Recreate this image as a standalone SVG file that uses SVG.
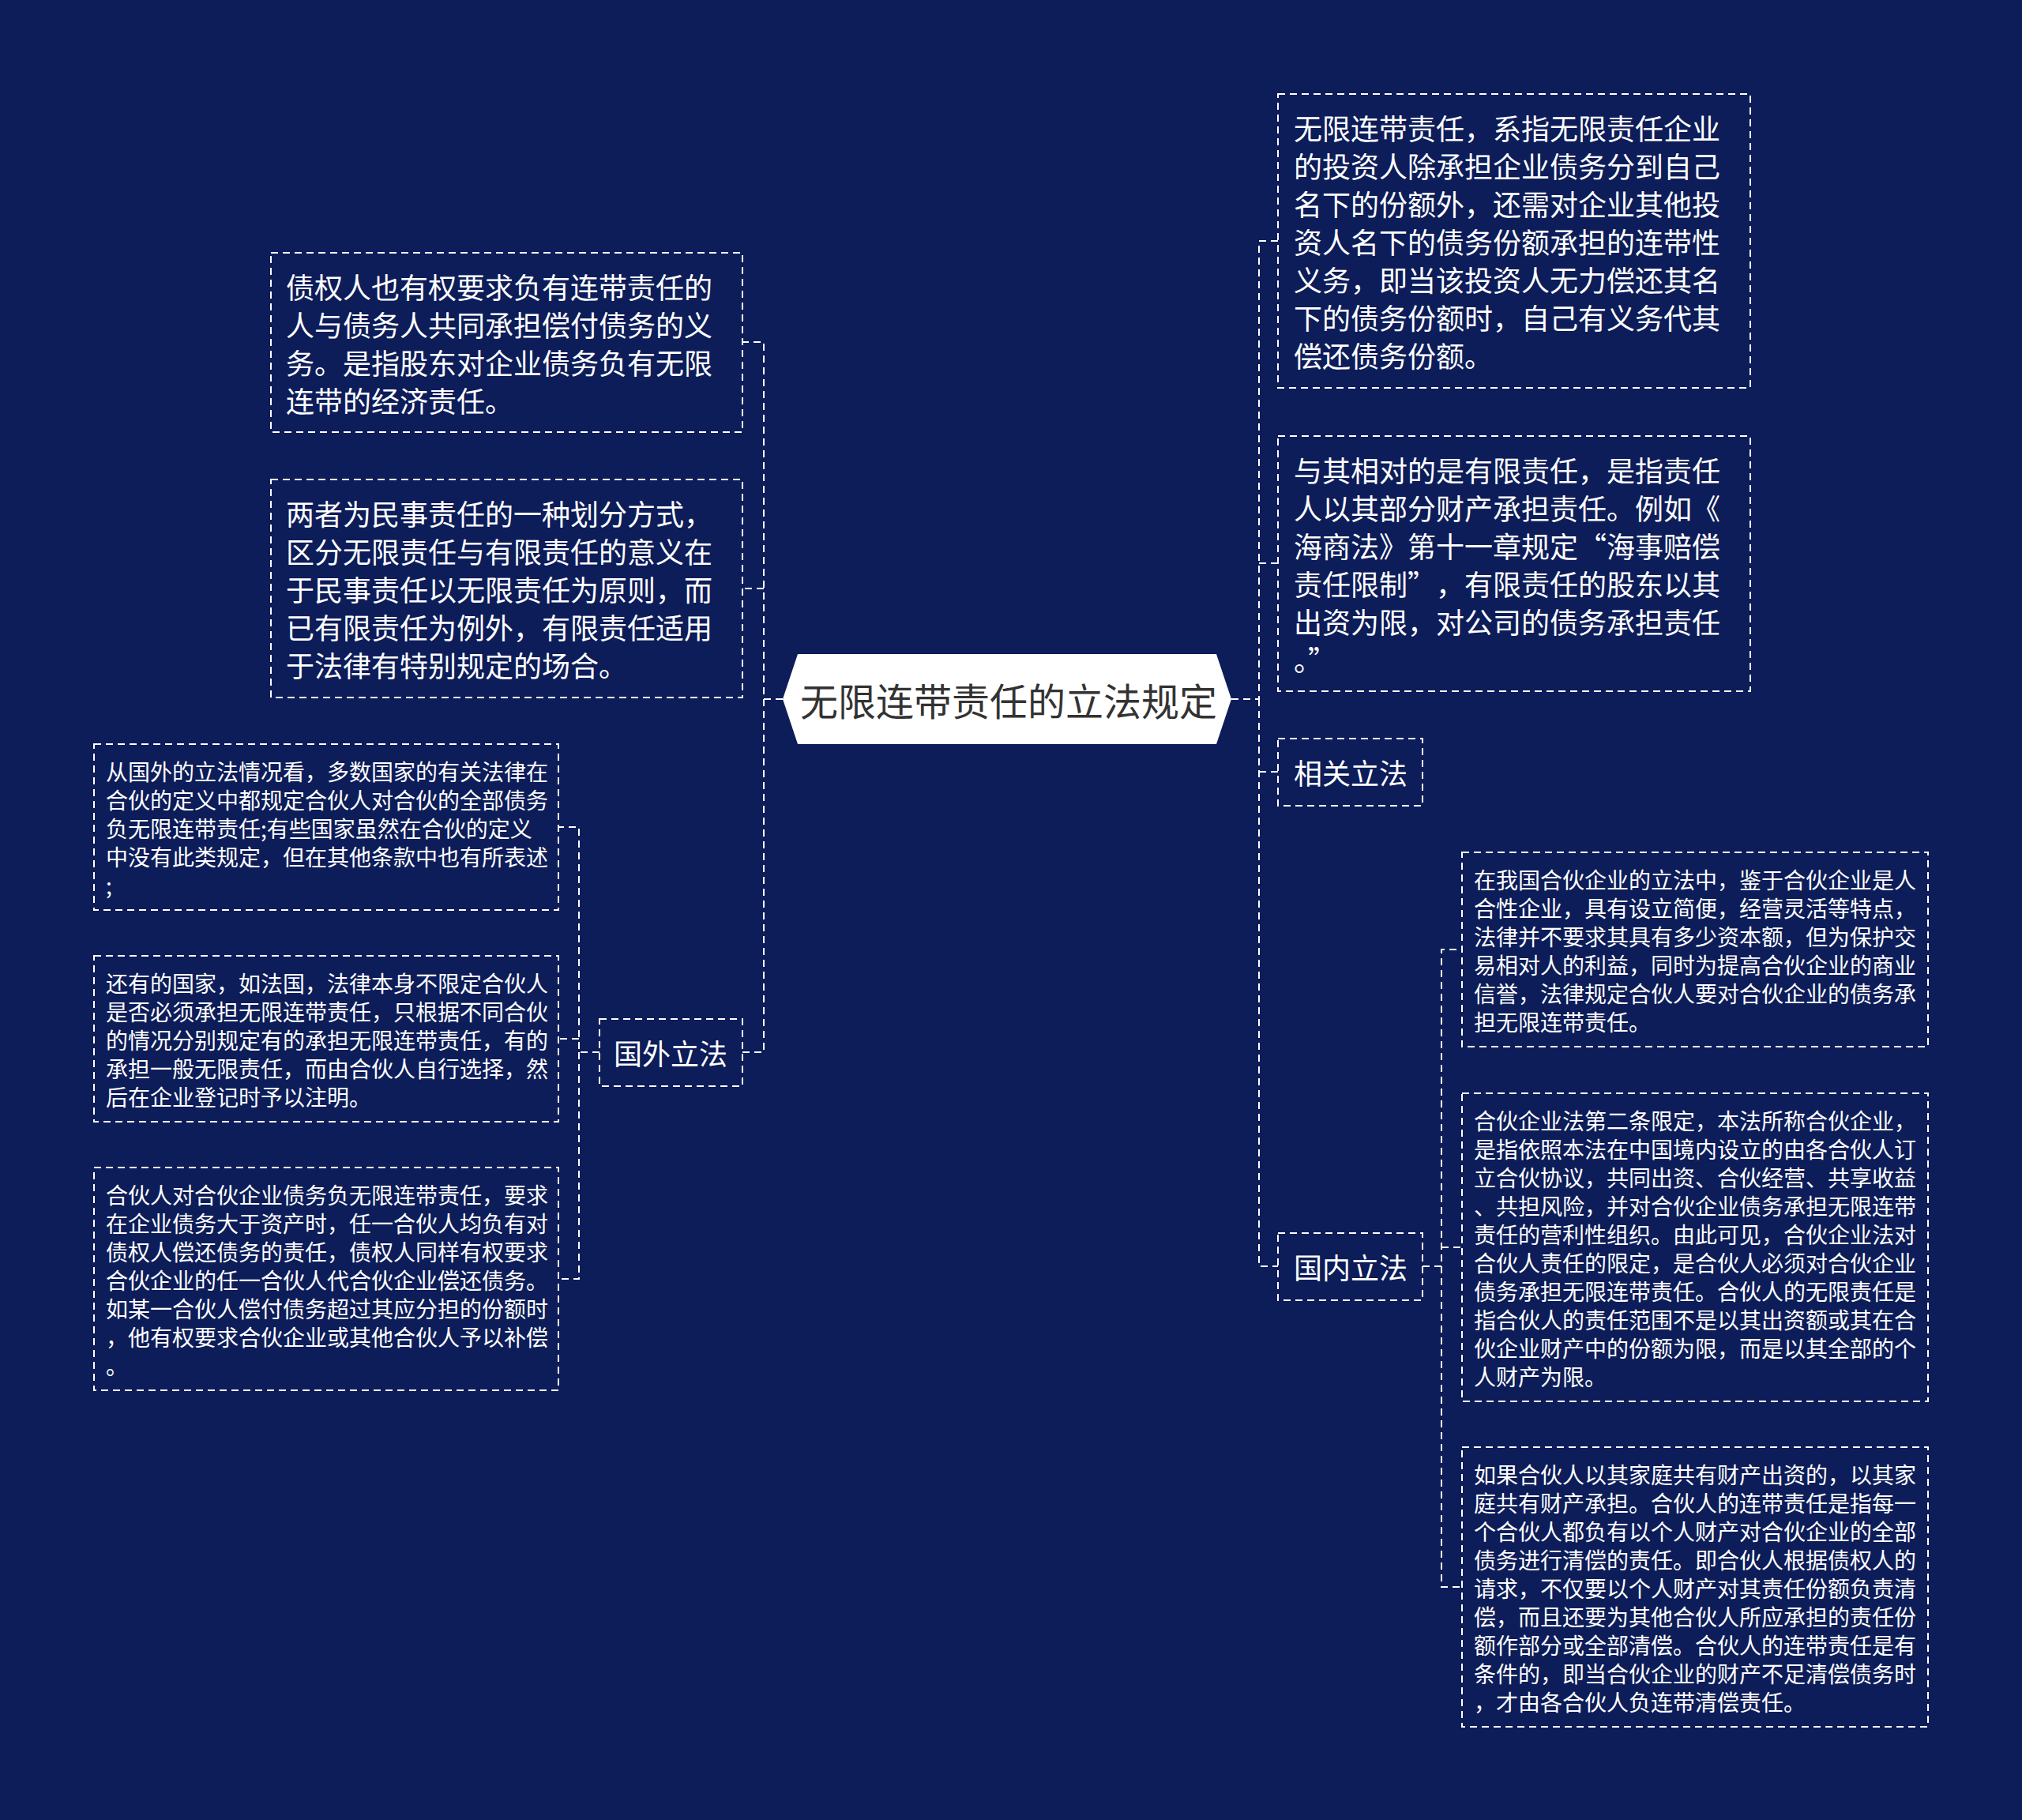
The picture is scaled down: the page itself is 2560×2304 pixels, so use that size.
<svg xmlns="http://www.w3.org/2000/svg" width="2560" height="2304" viewBox="0 0 2560 2304">
<style>
.bg{fill:#0d1d59}
.box{fill:none;stroke:#ffffff;stroke-width:2;stroke-dasharray:9 6}
.ln{fill:none;stroke:#ffffff;stroke-width:2;stroke-dasharray:9 6}
.t{fill:#ffffff;font-family:"Noto Sans CJK SC","Noto Sans",sans-serif;dominant-baseline:central}
.big{font-size:36px}
.sm{font-size:28px}
.ct{fill:#333333;font-family:"Noto Sans CJK SC","Noto Sans",sans-serif;font-size:48px;dominant-baseline:central;text-anchor:middle}
</style>
<rect class="bg" x="0" y="0" width="2560" height="2304"/>

<g id="connectors">
<path class="ln" d="M991,885 H967 V433 H940"/>
<path class="ln" d="M967,745 H940"/>
<path class="ln" d="M967,885 V1332 H940"/>
<path class="ln" d="M759,1332 H733 V1047 H707"/>
<path class="ln" d="M733,1315 H707"/>
<path class="ln" d="M733,1332 V1619 H707"/>
<path class="ln" d="M1559,885 H1594 V305 H1618"/>
<path class="ln" d="M1594,713 H1618"/>
<path class="ln" d="M1594,885 V1603 H1618"/>
<path class="ln" d="M1594,977 H1618"/>
<path class="ln" d="M1801,1603 H1825 V1202 H1851"/>
<path class="ln" d="M1825,1579 H1851"/>
<path class="ln" d="M1825,1603 V2009 H1851"/>
</g>

<g id="center">
<polygon points="991,885 1010,828 1540,828 1559,885 1540,942 1010,942" fill="#ffffff"/>
<text class="ct" x="1277" y="885">无限连带责任的立法规定</text>
</g>

<g id="r1">
<rect class="box" x="1618" y="119" width="598" height="372"/>
<text class="t big" x="1638" y="161">无限连带责任，系指无限责任企业</text>
<text class="t big" x="1638" y="209">的投资人除承担企业债务分到自己</text>
<text class="t big" x="1638" y="257">名下的份额外，还需对企业其他投</text>
<text class="t big" x="1638" y="305">资人名下的债务份额承担的连带性</text>
<text class="t big" x="1638" y="353">义务，即当该投资人无力偿还其名</text>
<text class="t big" x="1638" y="401">下的债务份额时，自己有义务代其</text>
<text class="t big" x="1638" y="449">偿还债务份额。</text>
</g>

<g id="r2">
<rect class="box" x="1618" y="552" width="598" height="323"/>
<text class="t big" x="1638" y="594">与其相对的是有限责任，是指责任</text>
<text class="t big" x="1638" y="642">人以其部分财产承担责任。例如《</text>
<text class="t big" x="1638" y="690">海商法》第十一章规定“海事赔偿</text>
<text class="t big" x="1638" y="738">责任限制”<tspan dx="18">，有限责任的股东以其</tspan></text>
<text class="t big" x="1638" y="786">出资为限，对公司的债务承担责任</text>
<text class="t big" x="1638" y="834">。”</text>
</g>

<g id="r-related">
<rect class="box" x="1618" y="935" width="183" height="85"/>
<text class="t big" x="1638" y="977">相关立法</text>
</g>

<g id="r-domestic">
<rect class="box" x="1618" y="1561" width="183" height="85"/>
<text class="t big" x="1638" y="1603">国内立法</text>
</g>

<g id="r3">
<rect class="box" x="1851" y="1079" width="590" height="246"/>
<text class="t sm" x="1866" y="1113">在我国合伙企业的立法中，鉴于合伙企业是人</text>
<text class="t sm" x="1866" y="1149">合性企业，具有设立简便，经营灵活等特点，</text>
<text class="t sm" x="1866" y="1185">法律并不要求其具有多少资本额，但为保护交</text>
<text class="t sm" x="1866" y="1221">易相对人的利益，同时为提高合伙企业的商业</text>
<text class="t sm" x="1866" y="1257">信誉，法律规定合伙人要对合伙企业的债务承</text>
<text class="t sm" x="1866" y="1293">担无限连带责任。</text>
</g>

<g id="r4">
<rect class="box" x="1851" y="1384" width="590" height="390"/>
<text class="t sm" x="1866" y="1418">合伙企业法第二条限定，本法所称合伙企业，</text>
<text class="t sm" x="1866" y="1454">是指依照本法在中国境内设立的由各合伙人订</text>
<text class="t sm" x="1866" y="1490">立合伙协议，共同出资、合伙经营、共享收益</text>
<text class="t sm" x="1866" y="1526">、共担风险，并对合伙企业债务承担无限连带</text>
<text class="t sm" x="1866" y="1562">责任的营利性组织。由此可见，合伙企业法对</text>
<text class="t sm" x="1866" y="1598">合伙人责任的限定，是合伙人必须对合伙企业</text>
<text class="t sm" x="1866" y="1634">债务承担无限连带责任。合伙人的无限责任是</text>
<text class="t sm" x="1866" y="1670">指合伙人的责任范围不是以其出资额或其在合</text>
<text class="t sm" x="1866" y="1706">伙企业财产中的份额为限，而是以其全部的个</text>
<text class="t sm" x="1866" y="1742">人财产为限。</text>
</g>

<g id="r5">
<rect class="box" x="1851" y="1832" width="590" height="354"/>
<text class="t sm" x="1866" y="1866">如果合伙人以其家庭共有财产出资的，以其家</text>
<text class="t sm" x="1866" y="1902">庭共有财产承担。合伙人的连带责任是指每一</text>
<text class="t sm" x="1866" y="1938">个合伙人都负有以个人财产对合伙企业的全部</text>
<text class="t sm" x="1866" y="1974">债务进行清偿的责任。即合伙人根据债权人的</text>
<text class="t sm" x="1866" y="2010">请求，不仅要以个人财产对其责任份额负责清</text>
<text class="t sm" x="1866" y="2046">偿，而且还要为其他合伙人所应承担的责任份</text>
<text class="t sm" x="1866" y="2082">额作部分或全部清偿。合伙人的连带责任是有</text>
<text class="t sm" x="1866" y="2118">条件的，即当合伙企业的财产不足清偿债务时</text>
<text class="t sm" x="1866" y="2154">，才由各合伙人负连带清偿责任。</text>
</g>

<g id="l1">
<rect class="box" x="343" y="320" width="597" height="227"/>
<text class="t big" x="362" y="362">债权人也有权要求负有连带责任的</text>
<text class="t big" x="362" y="410">人与债务人共同承担偿付债务的义</text>
<text class="t big" x="362" y="458">务。是指股东对企业债务负有无限</text>
<text class="t big" x="362" y="506">连带的经济责任。</text>
</g>

<g id="l2">
<rect class="box" x="343" y="607" width="597" height="276"/>
<text class="t big" x="362" y="649">两者为民事责任的一种划分方式，</text>
<text class="t big" x="362" y="697">区分无限责任与有限责任的意义在</text>
<text class="t big" x="362" y="745">于民事责任以无限责任为原则，而</text>
<text class="t big" x="362" y="793">已有限责任为例外，有限责任适用</text>
<text class="t big" x="362" y="841">于法律有特别规定的场合。</text>
</g>

<g id="l-foreign">
<rect class="box" x="759" y="1290" width="181" height="85"/>
<text class="t big" x="777" y="1332">国外立法</text>
</g>

<g id="l3">
<rect class="box" x="119" y="942" width="588" height="210"/>
<text class="t sm" x="134" y="976">从国外的立法情况看，多数国家的有关法律在</text>
<text class="t sm" x="134" y="1012">合伙的定义中都规定合伙人对合伙的全部债务</text>
<text class="t sm" x="134" y="1048">负无限连带责任;有些国家虽然在合伙的定义</text>
<text class="t sm" x="134" y="1084">中没有此类规定，但在其他条款中也有所表述</text>
<text class="t sm" x="134" y="1120">;</text>
</g>

<g id="l4">
<rect class="box" x="119" y="1210" width="588" height="210"/>
<text class="t sm" x="134" y="1244">还有的国家，如法国，法律本身不限定合伙人</text>
<text class="t sm" x="134" y="1280">是否必须承担无限连带责任，只根据不同合伙</text>
<text class="t sm" x="134" y="1316">的情况分别规定有的承担无限连带责任，有的</text>
<text class="t sm" x="134" y="1352">承担一般无限责任，而由合伙人自行选择，然</text>
<text class="t sm" x="134" y="1388">后在企业登记时予以注明。</text>
</g>

<g id="l5">
<rect class="box" x="119" y="1478" width="588" height="282"/>
<text class="t sm" x="134" y="1512">合伙人对合伙企业债务负无限连带责任，要求</text>
<text class="t sm" x="134" y="1548">在企业债务大于资产时，任一合伙人均负有对</text>
<text class="t sm" x="134" y="1584">债权人偿还债务的责任，债权人同样有权要求</text>
<text class="t sm" x="134" y="1620">合伙企业的任一合伙人代合伙企业偿还债务。</text>
<text class="t sm" x="134" y="1656">如某一合伙人偿付债务超过其应分担的份额时</text>
<text class="t sm" x="134" y="1692">，他有权要求合伙企业或其他合伙人予以补偿</text>
<text class="t sm" x="134" y="1728">。</text>
</g>
</svg>
